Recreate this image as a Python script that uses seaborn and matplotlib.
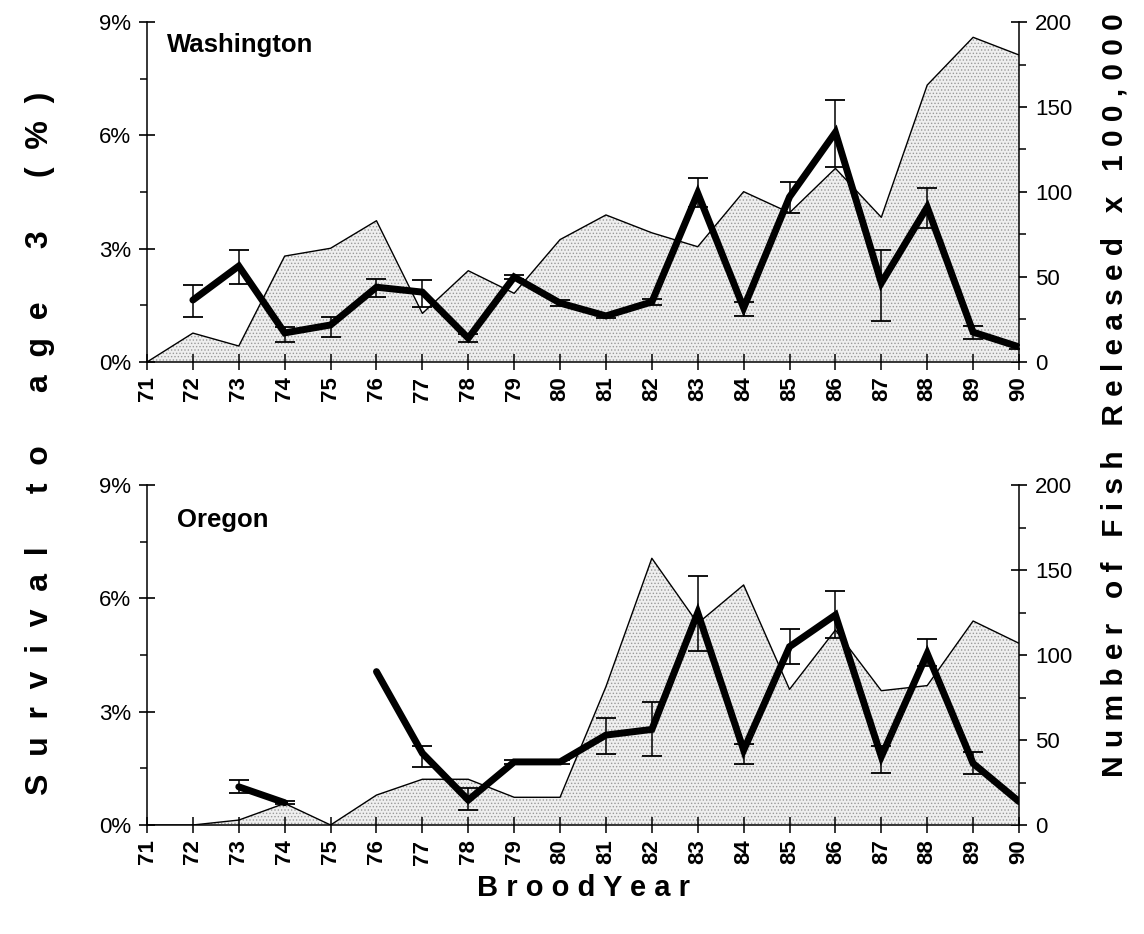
import numpy as np
import pandas as pd
import matplotlib
matplotlib.use("Agg")
import matplotlib.pyplot as plt
from matplotlib.ticker import MultipleLocator
import seaborn as sns

nan = np.nan

# ---------------- data ----------------
years = list(range(71, 91))
year_labels = [str(y) for y in years]

wa_survival = [nan, 1.64, 2.54, 0.77, 0.98, 1.98, 1.85, 0.63, 2.25, 1.56,
               1.22, 1.59, 4.47, 1.43, 4.37, 6.08, 2.09, 4.10, 0.79, 0.40]
wa_err_low = [nan, 1.19, 2.06, 0.53, 0.66, 1.72, 1.46, 0.53, 2.20, 1.48,
              1.17, 1.50, 4.10, 1.22, 3.94, 5.16, 1.08, 3.54, 0.61, 0.35]
wa_err_high = [nan, 2.04, 2.96, 0.93, 1.19, 2.20, 2.17, 0.73, 2.30, 1.64,
               1.27, 1.68, 4.87, 1.60, 4.76, 6.93, 2.96, 4.60, 0.95, 0.45]
wa_released = [0, 17, 9.4, 62.3, 66.9, 83.1, 28.6, 53.7, 40.4, 72,
               86.5, 76, 67.8, 100.2, 87.8, 113.9, 85.1, 162.9, 191, 180.6]

or_survival = [nan, nan, 1.01, 0.59, nan, 4.06, 1.90, 0.66, 1.67, 1.67,
               2.38, 2.53, 5.62, 1.98, 4.72, 5.56, 1.81, 4.54, 1.63, 0.62]
or_err_low = [nan, nan, 0.84, 0.55, nan, nan, 1.54, 0.40, 1.62, 1.62,
              1.88, 1.83, 4.60, 1.61, 4.25, 4.94, 1.38, 4.21, 1.34, nan]
or_err_high = [nan, nan, 1.19, 0.63, nan, nan, 2.10, 0.98, 1.72, 1.72,
               2.84, 3.25, 6.60, 2.15, 5.18, 6.19, 2.10, 4.92, 1.92, nan]
or_released = [0, 0, 2.9, 12.7, 0, 17.6, 26.9, 26.9, 16.3, 16.3,
               81.4, 156.9, 118.6, 141.2, 79.8, 114.7, 79.0, 82.0, 120.0, 106.9]

panel_names = ["Washington", "Oregon"]
pct_ticks = [0, 3, 6, 9]
pct_labels = ["0%", "3%", "6%", "9%"]
fish_ticks = [0, 50, 100, 150, 200]

# ---------------- style ----------------
sns.set_style("white")
plt.rcParams["font.family"] = ["Liberation Sans", "DejaVu Sans"]
plt.rcParams["hatch.linewidth"] = 0.6
plt.rcParams["text.color"] = "black"
plt.rcParams["xtick.color"] = "black"
plt.rcParams["ytick.color"] = "black"
plt.rcParams["axes.labelcolor"] = "black"

fig = plt.figure(figsize=(11.44, 9.34), dpi=100)

W, H = 1144, 934
def axes_rect(left, right, top, bottom):
    return [left / W, 1 - bottom / H, (right - left) / W, (bottom - top) / H]

rects = [axes_rect(147, 1019, 22, 362), axes_rect(147, 1019, 485, 825)]
panels = [
    (wa_survival, wa_err_low, wa_err_high, wa_released),
    (or_survival, or_err_low, or_err_high, or_released),
]
label_pos = [(0.023, 0.932), (0.034, 0.897)]


def segments(values):
    seg, cur, prev_nan = [], 0, True
    for v in values:
        if np.isnan(v):
            prev_nan = True
            seg.append(-1)
        else:
            if prev_nan:
                cur += 1
            prev_nan = False
            seg.append(cur)
    return seg


for i, (surv, lo, hi, fish) in enumerate(panels):
    ax = fig.add_axes(rects[i])
    ax2 = ax.twinx()
    ax.set_zorder(ax2.get_zorder() + 1)
    ax.patch.set_visible(False)

    # released fish (right axis): stippled area + thin outline
    fish_df = pd.DataFrame({"year": years, "fish": fish})
    ax2.fill_between(fish_df["year"], 0, fish_df["fish"], facecolor="#efefef",
                     hatch=".....", edgecolor="#9a9a9a", linewidth=0)
    sns.lineplot(data=fish_df, x="year", y="fish", ax=ax2, color="black",
                 linewidth=1.0, estimator=None, legend=False)

    # survival (left axis): thick line + error bars
    surv_df = pd.DataFrame({"year": years, "surv": surv, "lo": lo, "hi": hi,
                            "seg": segments(surv)})
    line_df = surv_df[surv_df["seg"] >= 0]
    sns.lineplot(data=line_df, x="year", y="surv", units="seg", estimator=None,
                 ax=ax, color="black", linewidth=5, legend=False,
                 solid_capstyle="round", solid_joinstyle="miter")
    eb = surv_df.dropna(subset=["lo", "hi"])
    ax.errorbar(eb["year"], eb["surv"],
                yerr=[eb["surv"] - eb["lo"], eb["hi"] - eb["surv"]],
                fmt="none", ecolor="black", elinewidth=1.1, capsize=7,
                capthick=1.3, zorder=3)

    # axes limits and ticks
    ax.set_xlim(71, 90)
    ax.set_ylim(0, 9)
    ax2.set_ylim(0, 200)
    ax.set_xticks(years)
    ax.set_xticklabels(year_labels, rotation=90, fontsize=16, fontweight="bold")
    ax.set_yticks(pct_ticks)
    ax.set_yticklabels(pct_labels, fontsize=16)
    ax.yaxis.set_minor_locator(MultipleLocator(1.5))
    ax2.set_yticks(fish_ticks)
    ax2.set_yticklabels([str(t) for t in fish_ticks], fontsize=16)
    ax2.yaxis.set_minor_locator(MultipleLocator(25))

    ax.tick_params(axis="x", direction="inout", length=11, width=1.1, pad=5,
                   bottom=True, top=False, colors="black")
    ax.tick_params(axis="y", which="major", direction="inout", length=11,
                   width=1.2, pad=6, left=True, right=False, colors="black")
    ax.tick_params(axis="y", which="minor", direction="out", length=5,
                   width=1.1, left=True, right=False, colors="black")
    ax2.tick_params(axis="y", which="major", direction="inout", length=11,
                    width=1.2, pad=6, right=True, left=False, colors="black")
    ax2.tick_params(axis="y", which="minor", direction="out", length=5,
                    width=1.1, right=True, left=False, colors="black")

    for a in (ax, ax2):
        a.set_xlabel("")
        a.set_ylabel("")
        a.spines["top"].set_visible(False)
        for s in ("left", "right", "bottom"):
            a.spines[s].set_color("black")
            a.spines[s].set_linewidth(1.1)
    ax.spines["right"].set_visible(False)
    ax2.spines["left"].set_visible(False)
    ax2.spines["bottom"].set_visible(False)
    ax.grid(False)
    ax2.grid(False)

    ax.text(label_pos[i][0], label_pos[i][1], panel_names[i],
            transform=ax.transAxes, fontsize=18.5, fontweight="bold",
            color="black", ha="left", va="center")

# axis titles (letter-spaced as in the original)
fig.text(0.035, 0.525, "S  u  r  v  i  v  a  l      t  o      a  g  e      3      (  %  )",
         rotation=90, fontsize=23, fontweight="bold", color="black",
         ha="center", va="center")
fig.text(0.974, 0.577, "N u m b e r   o f   F i s h   R e l e a s e d   x   1 0 0 , 0 0 0",
         rotation=90, fontsize=21.5, fontweight="bold", color="black",
         ha="center", va="center")
fig.text(0.51, 0.049, "B r o o d Y e a r", fontsize=21, fontweight="bold",
         color="black", ha="center", va="center")

fig.savefig("out.png", dpi=100, facecolor="white")
